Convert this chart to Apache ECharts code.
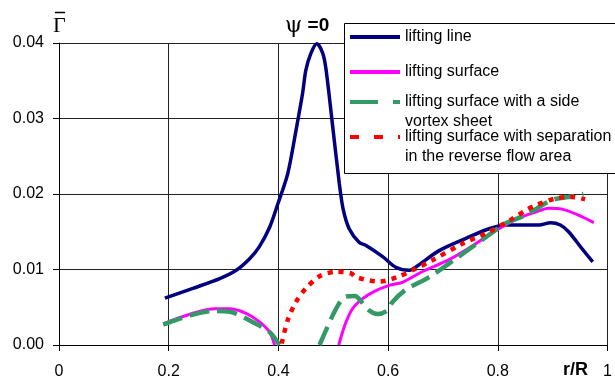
<!DOCTYPE html>
<html><head><meta charset="utf-8">
<script src="https://cdn.jsdelivr.net/npm/echarts@6/dist/echarts.min.js"></script>
<style>html,body{margin:0;padding:0;background:#fff}#c{width:615px;height:381px}</style>
</head><body><div id="c"></div>
<script>
var FONT = '"Liberation Sans", Arial, sans-serif';
var xTicks = [0, 0.2, 0.4, 0.6, 0.8, 1];
var yTicks = [0, 0.01, 0.02, 0.03, 0.04];
var seriesNames = ['lifting line', 'lifting surface', 'lifting surface with a side\nvortex sheet', 'lifting surface with separation\nin the reverse flow area'];

var liftingLine = [[0.193,0.0062],[0.244,0.0075],[0.293,0.0088],[0.323,0.0099],[0.347,0.0114],[0.365,0.0130],[0.384,0.0156],[0.399,0.0187],[0.417,0.0227],[0.432,0.0284],[0.444,0.0333],[0.450,0.0364],[0.459,0.0386],[0.470,0.0399],[0.481,0.0386],[0.487,0.0364],[0.499,0.0289],[0.511,0.0214],[0.518,0.0180],[0.529,0.0154],[0.547,0.0136],[0.559,0.0132],[0.590,0.0117],[0.614,0.0103],[0.638,0.0099],[0.650,0.0103],[0.693,0.0125],[0.741,0.0141],[0.784,0.0154],[0.814,0.0159],[0.850,0.0159],[0.875,0.0159],[0.896,0.0162],[0.914,0.0159],[0.929,0.0150],[0.953,0.0128],[0.973,0.0110]];

var liftingSurface = [[0.190,0.0028],[0.244,0.0042],[0.284,0.0048],[0.311,0.0048],[0.341,0.0042],[0.365,0.0031],[0.384,0.0017],[0.393,0.0000],[0.45,null],[0.510,0.0000],[0.516,0.0015],[0.523,0.0030],[0.535,0.0048],[0.553,0.0061],[0.575,0.0071],[0.602,0.0079],[0.626,0.0083],[0.662,0.0097],[0.711,0.0113],[0.753,0.0131],[0.800,0.0153],[0.838,0.0168],[0.869,0.0176],[0.893,0.0181],[0.917,0.0180],[0.947,0.0172],[0.975,0.0162]];

var sideVortex = [[0.190,0.0027],[0.238,0.0039],[0.281,0.0045],[0.311,0.0044],[0.359,0.0028],[0.384,0.0017],[0.402,0.0000],[0.44,null],[0.475,0.0000],[0.487,0.0020],[0.505,0.0048],[0.522,0.0064],[0.540,0.0065],[0.547,0.0061],[0.565,0.0046],[0.581,0.0041],[0.599,0.0046],[0.608,0.0057],[0.632,0.0073],[0.675,0.0090],[0.723,0.0114],[0.771,0.0139],[0.814,0.0161],[0.850,0.0172],[0.899,0.0192],[0.929,0.0196],[0.956,0.0200]];

var separation = [[0.406,0.0002],[0.417,0.0033],[0.432,0.0057],[0.450,0.0075],[0.475,0.0091],[0.505,0.0097],[0.532,0.0095],[0.541,0.0090],[0.584,0.0084],[0.617,0.0090],[0.644,0.0099],[0.680,0.0112],[0.735,0.0134],[0.784,0.0150],[0.826,0.0167],[0.850,0.0178],[0.869,0.0185],[0.905,0.0194],[0.935,0.0196],[0.959,0.0193]];

var chart = echarts.init(document.getElementById('c'), null, {renderer: 'canvas'});
function legendAt(name, top, multi, dash) {
  return {
    data: [name], left: 348, top: top, orient: 'vertical', padding: 0,
    itemWidth: 50, itemHeight: 14, itemGap: 0, selectedMode: false, z: 20,
    formatter: multi ? '\n{name}' : '{name}',
    itemStyle: {opacity: 0},
    lineStyle: {width: 4, type: dash || 'solid'},
    textStyle: {fontSize: 16, fontFamily: FONT, color: '#000', lineHeight: 20}
  };
}
var option = {
  animation: false,
  backgroundColor: '#fff',
  grid: {left: 59, top: 43, width: 550, height: 302},
  xAxis: {
    type: 'value', min: xTicks[0], max: xTicks[xTicks.length - 1], interval: 0.2,
    axisLine: {show: true, onZero: false, lineStyle: {color: '#000', width: 1}},
    axisTick: {show: true, length: 6, lineStyle: {color: '#000'}},
    axisLabel: {fontSize: 16, fontFamily: FONT, color: '#000', margin: 19,
      formatter: function (v) { return (v === 0 || v === 1) ? String(v) : v.toFixed(1); }},
    splitLine: {show: true, lineStyle: {color: '#222', width: 1}}
  },
  yAxis: {
    type: 'value', min: yTicks[0], max: yTicks[yTicks.length - 1], interval: 0.01,
    axisLine: {show: true, lineStyle: {color: '#000', width: 1}},
    axisTick: {show: true, length: 6, lineStyle: {color: '#000'}},
    axisLabel: {fontSize: 16, fontFamily: FONT, color: '#000', margin: 15,
      formatter: function (v) { return v.toFixed(2); }},
    splitLine: {show: true, lineStyle: {color: '#222', width: 1}}
  },
  legend: [
    legendAt(seriesNames[0], 27, false),
    legendAt(seriesNames[1], 62, false),
    legendAt(seriesNames[2], 72, true, [28, 15]),
    legendAt(seriesNames[3], 107, true, [9, 15])
  ],
  series: [
    {name: seriesNames[0], type: 'line', data: liftingLine, symbol: 'none', smooth: 0.3, z: 2,
      lineStyle: {color: '#000080', width: 3.5}, itemStyle: {color: '#000080'}},
    {name: seriesNames[1], type: 'line', data: liftingSurface, symbol: 'none', smooth: 0.3, connectNulls: false, z: 2,
      lineStyle: {color: '#ff00ff', width: 3}, itemStyle: {color: '#ff00ff'}},
    {name: seriesNames[2], type: 'line', data: sideVortex, symbol: 'none', smooth: 0.3, connectNulls: false, z: 2,
      lineStyle: {color: '#339966', width: 4.5, type: [20, 8]}, itemStyle: {color: '#339966'}},
    {name: seriesNames[3], type: 'line', data: separation, symbol: 'none', smooth: 0.3, z: 2,
      lineStyle: {color: '#ff0000', width: 4.5, type: [5, 6]}, itemStyle: {color: '#ff0000'}}
  ],
  graphic: [
    {type: 'rect', z: 10, shape: {x: 344.5, y: 23.5, width: 300, height: 150},
      style: {fill: '#fff', stroke: '#000', lineWidth: 1}},
    {type: 'text', x: 53, y: 26, style: {text: 'Γ', font: '22px "Liberation Serif", "DejaVu Serif", serif', fill: '#000', verticalAlign: 'middle'}},
    {type: 'line', shape: {x1: 55, y1: 12.5, x2: 65, y2: 12.5}, style: {stroke: '#000', lineWidth: 1.5}},
    {type: 'text', left: 285, top: 15, style: {
      text: '{a|ψ}{b| =0}',
      rich: {a: {fontSize: 22, fontFamily: '"DejaVu Serif", serif', fill: '#000'},
             b: {fontSize: 19, fontWeight: 'bold', fontFamily: FONT, fill: '#000'}}}},
    {type: 'text', left: 563, top: 361, style: {text: 'r/R', font: 'bold 18px "Liberation Sans", Arial, sans-serif', fill: '#000'}}
  ]
};
chart.setOption(option);
</script></body></html>
